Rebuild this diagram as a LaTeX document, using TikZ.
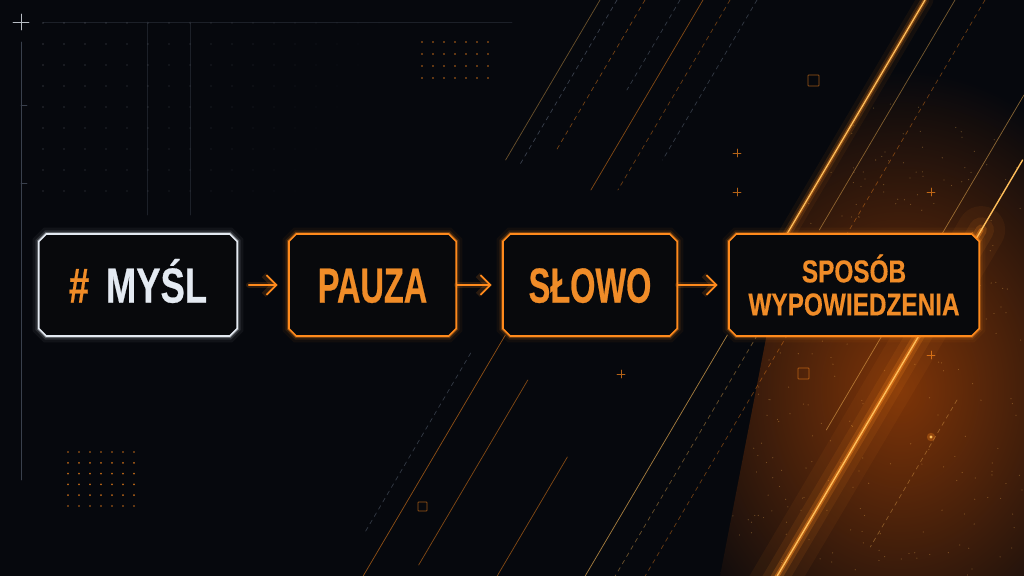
\documentclass[tikz,border=0pt]{standalone}
\usepackage{fontspec}
\newfontfamily\boxfont[FakeStretch=0.66,FakeBold=0.5]{Liberation Sans}
\newfontfamily\thoughtfont[FakeStretch=0.74,FakeBold=0.5]{Liberation Sans}
\newfontfamily\wideboxfont[FakeStretch=0.77,FakeBold=0.4]{Liberation Sans}
\usetikzlibrary{shapes.misc,arrows.meta}
\definecolor{bg}{RGB}{6,8,13}
\definecolor{boxfill}{RGB}{8,9,12}
\definecolor{glow}{RGB}{255,138,28}
\definecolor{txtorange}{RGB}{240,140,40}
\definecolor{frost}{RGB}{228,234,242}
\definecolor{haze}{RGB}{125,52,8}
\definecolor{amber}{RGB}{255,190,90}
\definecolor{dotgrey}{RGB}{70,78,92}

\begin{document}
\begin{tikzpicture}[x=0.025cm,y=-0.025cm,>={Straight Barb[length=7pt,width=14pt]},line cap=round,
  step node/.style={chamfered rectangle,chamfered rectangle xsep=2.6pt,chamfered rectangle ysep=2.6pt,draw=#1,fill=boxfill,line width=1.1pt,minimum height=2.55cm,inner sep=0pt,align=center,text=txtorange,font=\boxfont\bfseries\fontsize{35}{35}\selectfont,preaction={draw=#1,line width=9pt,opacity=0.05},preaction={draw=#1,line width=5pt,opacity=0.12},preaction={draw=#1,line width=2.6pt,opacity=0.3}},
  step node/.default=glow,
  one line/.style={text height=25pt,text depth=0pt},
  flow/.style={->,draw=glow,line width=1.3pt,shorten >=7.5pt,preaction={draw=glow,line width=4pt,opacity=0.15}},
  thin line/.style={line width=0.5pt}]

  % background
  \useasboundingbox (0,0) rectangle (1024,576);
  \clip (0,0) rectangle (1024,576);
  \fill[bg] (0,0) rectangle (1024,576);
  \begin{scope}
    \clip (925,0) -- (1024,0) -- (1024,576) -- (720,576) -- (786,235) -- cycle;
    \shade[inner color=haze,outer color=bg] (900,390) ellipse [x radius=260,y radius=320];
    \pgfmathsetseed{7}
    \foreach \i in {1,...,300}{
      \pgfmathsetmacro\gx{730+rnd*294}
      \pgfmathsetmacro\gy{100+rnd*476}
      \fill[amber,opacity=0.3] (\gx,\gy) circle (0.45pt);
    }
  \end{scope}

  % diagonal streaks
  \foreach \xo/\ya/\yb/\col/\op/\pat in {600/0/160/amber/0.4/solid,617/0/165/dotgrey/0.8/dashed,645/0/150/glow/0.45/dashed,680/0/90/dotgrey/0.7/dashed,703/0/190/glow/0.5/solid,703/335/576/glow/0.55/solid,730/0/190/glow/0.4/dashed,757/0/160/dotgrey/0.7/dashed,752/380/565/glow/0.5/solid,679/353/533/dotgrey/0.7/dashed,837/457/576/glow/0.5/solid,955/0/230/amber/0.45/solid,955/335/576/amber/0.4/dashed,985/0/576/glow/0.4/dashed,1080/95/430/amber/0.5/solid,1193/400/547/amber/0.35/dashed,925/335/576/amber/0.65/solid}
    \draw[\col,opacity=\op,\pat,thin line] ({\xo-0.59*\ya},\ya) -- ({\xo-0.59*\yb},\yb);

  \foreach \w/\op in {12pt/0.06,6pt/0.14,2.8pt/0.35}
    \draw[glow,line width=\w,opacity=\op] (925,0) -- ({925-0.59*235},235);
  \draw[amber,line width=0.9pt] (925,0) -- ({925-0.59*235},235);
  \foreach \w/\op in {34pt/0.06,18pt/0.09,8pt/0.2,3.2pt/0.45}
    \draw[glow,line width=\w,opacity=\op] ({1117-0.59*230},230) -- ({1117-0.59*600},600);
  \draw[amber,line width=1pt] ({1117-0.59*160},160) -- ({1117-0.59*576},576);

  % grid and marks
  \draw[frost,opacity=0.8,line width=0.6pt] (13,22) -- (29,22) (21,14) -- (21,30);
  \draw[dotgrey,opacity=0.8,thin line] (21,42) -- (21,480) (21,105) -- (27,105) (21,183) -- (27,183);
  \draw[dotgrey,opacity=0.35,thin line] (43,22) -- (512,22) (147,22) -- (147,215) (190,22) -- (190,215);
  \foreach \gx in {43,64,...,380}
    \foreach \gy in {23,44,...,191}{
      \pgfmathsetmacro\dop{max(0,0.9-(\gx+0.5*\gy)/460)}
      \fill[dotgrey!70!white,opacity=\dop] (\gx,\gy) circle (0.45pt);
    }
  \foreach \i in {0,...,6}{
    \foreach \j in {0,...,3}
      \fill[glow,opacity=0.75] ({422+11*\i},{42+12*\j}) circle (0.7pt);
    \foreach \j in {0,...,5}
      \fill[glow,opacity=0.75] ({68+11*\i},{452+10.8*\j}) circle (0.7pt);
  }
  \draw[glow,opacity=0.6,thin line,rounded corners=0.5pt] (808,75) rectangle (819,86) (798,368) rectangle (809,379) (418,502) rectangle (427,511);
  \foreach \cx/\cy in {737/153,737/192,931/192,621/374,931/355}
    \draw[glow,opacity=0.7,thin line] ({\cx-4},\cy) -- ({\cx+4},\cy) ({\cx},{\cy-4}) -- ({\cx},{\cy+4});
  \fill[glow,opacity=0.3] (931,437) circle (3pt);
  \fill[amber] (931,437) circle (1.2pt);

  % boxes
  \node[step node=frost,one line,minimum width=4.95cm,font=\thoughtfont\bfseries\fontsize{35}{35}\selectfont] (1) at (138,285) {\textcolor{txtorange}{\#}\hspace{0.42cm}\textcolor{frost}{MYŚL}};
  \node[step node,one line,minimum width=4.175cm] (2) at (372.5,285) {PAUZA};
  \node[step node,one line,minimum width=4.35cm] (3) at (590,285) {SŁOWO};
  \node[step node,minimum width=6.25cm,font=\wideboxfont\bfseries\fontsize{22.5}{23.5}\selectfont] (4) at (854,285) {SPOSÓB\\WYPOWIEDZENIA};

\path
  (1) edge[flow,shorten <=7.8pt] (2)
  (2) edge[flow] (3)
  (3) edge[flow] (4)
;
\end{tikzpicture}
\end{document}
